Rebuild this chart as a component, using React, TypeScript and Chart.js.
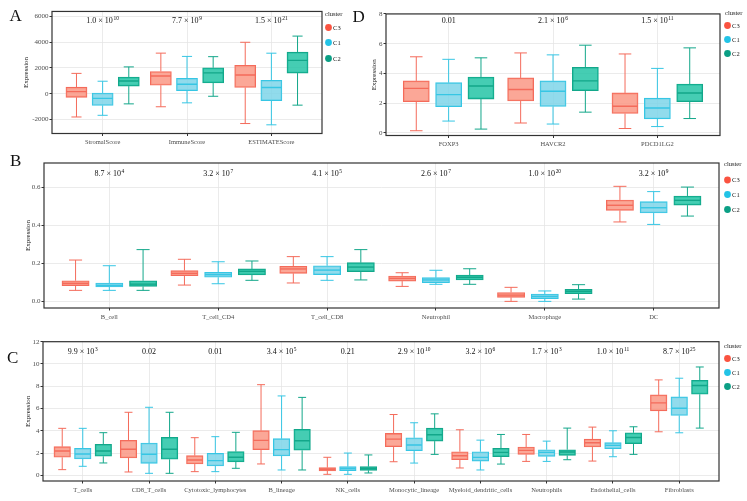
import React, { useEffect, useRef } from 'react';
import { Chart, registerables } from 'chart.js';

Chart.register(...registerables);

const FONT = "'Liberation Serif', 'Times New Roman', Times, serif";
Chart.defaults.font.family = FONT;

// ---------------- data ----------------
const clusters = ['C3', 'C1', 'C2'];

// each box: [lower whisker, Q1, median, Q3, upper whisker]
const catsA = ['StromalScore', 'ImmuneScore', 'ESTIMATEScore'];
const aC3 = [[-1810, -280, 160, 510, 1580], [-1015, 660, 1375, 1730, 3155], [-2320, 485, 1450, 2215, 4000]];
const aC1 = [[-1680, -915, -360, 55, 970], [-710, 230, 740, 1195, 2900], [-2420, -535, 485, 1045, 3150]];
const aC2 = [[-790, 590, 990, 1300, 2085], [-200, 840, 1620, 2015, 2880], [-890, 1605, 2590, 3235, 4480]];
const ticksA = [-2000, 0, 2000, 4000, 6000];
const pA = ['1.0 × 10^10', '7.7 × 10^9', '1.5 × 10^21'];

const catsD = ['FOXP3', 'HAVCR2', 'PDCD1LG2'];
const dC3 = [[0.15, 2.1, 3.0, 3.5, 5.12], [0.67, 2.15, 2.92, 3.7, 5.38], [0.3, 1.31, 1.8, 2.69, 5.31]];
const dC1 = [[0.8, 1.76, 2.58, 3.38, 4.95], [0.6, 1.78, 2.8, 3.5, 5.25], [0.43, 0.95, 1.68, 2.34, 4.34]];
const dC2 = [[0.26, 2.28, 3.16, 3.76, 5.05], [1.4, 2.84, 3.5, 4.41, 5.9], [0.97, 2.11, 2.69, 3.29, 5.72]];
const ticksD = [0, 2, 4, 6, 8];
const pD = ['0.01', '2.1 × 10^6', '1.5 × 10^11'];

const catsB = ['B_cell', 'T_cell_CD4', 'T_cell_CD8', 'Neutrophil', 'Macrophage', 'DC'];
const bC3 = [[0.058, 0.083, 0.095, 0.109, 0.218], [0.086, 0.135, 0.148, 0.162, 0.222], [0.097, 0.148, 0.171, 0.185, 0.236], [0.079, 0.107, 0.121, 0.134, 0.151], [0.0, 0.021, 0.033, 0.047, 0.074], [0.419, 0.48, 0.507, 0.535, 0.607]];
const bC1 = [[0.058, 0.076, 0.084, 0.097, 0.188], [0.093, 0.127, 0.141, 0.153, 0.209], [0.111, 0.141, 0.165, 0.188, 0.236], [0.09, 0.098, 0.113, 0.125, 0.164], [0.0, 0.014, 0.026, 0.039, 0.055], [0.406, 0.466, 0.494, 0.526, 0.579]];
const bC2 = [[0.058, 0.079, 0.091, 0.109, 0.273], [0.111, 0.139, 0.158, 0.171, 0.213], [0.113, 0.157, 0.181, 0.204, 0.273], [0.09, 0.113, 0.127, 0.139, 0.172], [0.012, 0.04, 0.053, 0.063, 0.088], [0.45, 0.508, 0.533, 0.556, 0.603]];
const ticksB = [0, 0.2, 0.4, 0.6];
const pB = ['8.7 × 10^4', '3.2 × 10^7', '4.1 × 10^5', '2.6 × 10^7', '1.0 × 10^20', '3.2 × 10^9'];

const catsC = ['T_cells', 'CD8_T_cells', 'Cytotoxic_lymphocytes', 'B_lineage', 'NK_cells', 'Monocytic_lineage', 'Myeloid_dendritic_cells', 'Neutrophils', 'Endothelial_cells', 'Fibroblasts'];
const cC3 = [[0.51, 1.62, 2.19, 2.57, 4.22], [0.3, 1.56, 2.34, 3.14, 5.66], [0.33, 1.02, 1.38, 1.77, 3.38], [1.02, 2.31, 3.14, 4.01, 8.14], [0.09, 0.39, 0.54, 0.69, 1.62], [1.22, 2.57, 3.25, 3.76, 5.46], [0.66, 1.4, 1.76, 2.12, 4.09], [1.25, 1.88, 2.24, 2.54, 3.67], [1.28, 2.54, 2.93, 3.25, 4.33], [3.91, 5.79, 6.51, 7.22, 8.57]];
const cC1 = [[0.81, 1.47, 1.92, 2.43, 4.22], [0.18, 1.08, 1.89, 2.9, 6.11], [0.33, 0.84, 1.32, 1.98, 3.47], [0.48, 1.74, 2.31, 3.29, 7.13], [0.09, 0.42, 0.6, 0.78, 2.0], [1.1, 2.21, 2.72, 3.37, 4.72], [0.48, 1.28, 1.61, 2.12, 3.16], [1.25, 1.7, 2.06, 2.3, 3.07], [1.67, 2.39, 2.69, 2.93, 4.0], [3.82, 5.37, 6.03, 7.04, 8.72]];
const cC2 = [[1.11, 1.71, 2.19, 2.78, 3.83], [0.18, 1.44, 2.34, 3.41, 5.66], [0.63, 1.2, 1.62, 2.13, 3.86], [0.48, 2.25, 3.11, 4.13, 7.0], [0.21, 0.45, 0.6, 0.78, 1.83], [1.88, 3.07, 3.64, 4.24, 5.52], [1.01, 1.67, 2.06, 2.42, 3.67], [1.4, 1.79, 2.09, 2.3, 4.24], [1.88, 2.84, 3.4, 3.82, 4.36], [4.24, 7.28, 8.06, 8.54, 9.73]];
const ticksC = [0, 2, 4, 6, 8, 10, 12];
const pC = ['9.9 × 10^3', '0.02', '0.01', '3.4 × 10^5', '0.21', '2.9 × 10^10', '3.2 × 10^6', '1.7 × 10^3', '1.0 × 10^11', '8.7 × 10^25'];

// ---------------- styles ----------------
const dotColors = ['#FA5340', '#22C3E6', '#0B9F85'];
const lineColors = ['#F46B5B', '#36C6E4', '#13A78A'];
const fillColors = ['rgba(250,152,133,0.85)', 'rgba(126,213,233,0.85)', 'rgba(36,196,166,0.85)'];
const DODGE = 0.31;
const BOX_W = 0.25;
const CAP_W = 0.12;

const panels = [
  {
    id: 'A', cats: catsA, series: [aC3, aC1, aC2], yTicks: ticksA, pvals: pA,
    canvas: { left: 0, top: 0, w: 352, h: 160 },
    plot: { left: 52, right: 322, top: 9.3, bottom: 133.5 },
    yMin: -3095, yMax: 6397, fmt: (v: number) => String(v),
    yTitleX: 26.3, pY: 23.3, letter: { x: 9.5, y: 20.7 },
    legend: { titleX: 325, titleY: 14.3, dotX: 328.5, ys: [27.5, 42.5, 58.5] },
  },
  {
    id: 'D', cats: catsD, series: [dC3, dC1, dC2], yTicks: ticksD, pvals: pD,
    canvas: { left: 350, top: 0, w: 397, h: 160 },
    plot: { left: 386, right: 720, top: 9.3, bottom: 135.5 },
    yMin: -0.17, yMax: 8.0, fmt: (v: number) => String(v),
    yTitleX: 374, pY: 23.3, letter: { x: 352.5, y: 21.7 },
    legend: { titleX: 725, titleY: 13.5, dotX: 727.5, ys: [25.5, 39.5, 53.5] },
  },
  {
    id: 'B', cats: catsB, series: [bC3, bC1, bC2], yTicks: ticksB, pvals: pB,
    canvas: { left: 0, top: 145, w: 747, h: 182 },
    plot: { left: 44, right: 719, top: 163, bottom: 308 },
    yMin: -0.035, yMax: 0.73, fmt: (v: number) => v.toFixed(1),
    yTitleX: 27.8, pY: 176, letter: { x: 10, y: 166 },
    legend: { titleX: 724, titleY: 164, dotX: 727.5, ys: [180, 194.5, 209.5] },
  },
  {
    id: 'C', cats: catsC, series: [cC3, cC1, cC2], yTicks: ticksC, pvals: pC,
    canvas: { left: 0, top: 327, w: 747, h: 174 },
    plot: { left: 43, right: 719, top: 341.7, bottom: 481 },
    yMin: -0.51, yMax: 12.0, fmt: (v: number) => String(v),
    yTitleX: 27.8, pY: 354, letter: { x: 7, y: 362.5 },
    legend: { titleX: 724, titleY: 346.5, dotX: 727.5, ys: [358.5, 372.5, 386.5] },
  },
];

function drawP(ctx: CanvasRenderingContext2D, label: string, x: number, y: number, size: number) {
  const parts = label.split('^');
  const base = parts[0];
  const exp = parts[1];
  const es = size * 0.68;
  ctx.font = `${size}px ${FONT}`;
  const bw = ctx.measureText(base).width;
  let ew = 0;
  if (exp) {
    ctx.font = `${es}px ${FONT}`;
    ew = ctx.measureText(exp).width + 0.6;
  }
  const x0 = x - (bw + ew) / 2;
  ctx.textAlign = 'left';
  ctx.textBaseline = 'alphabetic';
  ctx.fillStyle = '#111';
  ctx.font = `${size}px ${FONT}`;
  ctx.fillText(base, x0, y);
  if (exp) {
    ctx.font = `${es}px ${FONT}`;
    ctx.fillText(exp, x0 + bw + 0.6, y - size * 0.42);
  }
}

function makeDeco(p: any) {
  return {
    id: 'deco' + p.id,
    afterDraw(chart: any) {
      const { ctx, chartArea: a, scales } = chart;
      const ox = p.canvas.left;
      const oy = p.canvas.top;
      ctx.save();
      // panel border
      ctx.strokeStyle = '#333';
      ctx.lineWidth = 1.2;
      ctx.strokeRect(a.left, a.top, a.right - a.left, a.bottom - a.top);
      // p-values
      p.pvals.forEach((lab: string, i: number) => {
        drawP(ctx, lab, scales.x.getPixelForValue(i + 1), p.pY - oy, 8);
      });
      // legend
      const lg = p.legend;
      ctx.font = `6.5px ${FONT}`;
      ctx.textAlign = 'left';
      ctx.textBaseline = 'middle';
      ctx.fillStyle = '#1a1a1a';
      ctx.fillText('cluster', lg.titleX - ox, lg.titleY - oy);
      clusters.forEach((name, c) => {
        const y = lg.ys[c] - oy;
        ctx.beginPath();
        ctx.arc(lg.dotX - ox, y, 3.4, 0, Math.PI * 2);
        ctx.fillStyle = dotColors[c];
        ctx.fill();
        ctx.fillStyle = '#1a1a1a';
        ctx.font = `6.5px ${FONT}`;
        ctx.fillText(name, lg.dotX - ox + 4.6, y + 0.5);
      });
      // panel letter
      ctx.font = `17px ${FONT}`;
      ctx.textBaseline = 'alphabetic';
      ctx.fillStyle = '#111';
      ctx.fillText(p.id, p.letter.x - ox, p.letter.y - oy);
      ctx.restore();
    },
  };
}

function buildConfig(p: any) {
  const n = p.cats.length;
  const unit = (p.plot.right - p.plot.left) / (n + 0.2);
  const boxPx = unit * BOX_W;
  const capPx = unit * CAP_W;
  const datasets: any[] = [];
  p.series.forEach((stats: number[][], c: number) => {
    const off = (c - 1) * DODGE;
    const xs = stats.map((_, i) => i + 1 + off);
    datasets.push({
      type: 'bar',
      data: stats.map((s, i) => ({ x: xs[i], y: [s[1], s[3]] })),
      backgroundColor: fillColors[c],
      borderColor: lineColors[c],
      borderWidth: 1.1,
      borderSkipped: false,
      barThickness: boxPx,
      grouped: false,
      order: 2,
    });
    const wd: any[] = [];
    stats.forEach((s, i) => {
      const x = xs[i];
      wd.push({ x, y: s[0] }, { x, y: s[1] }, { x, y: null }, { x, y: s[3] }, { x, y: s[4] }, { x, y: null });
    });
    datasets.push({
      type: 'line',
      data: wd,
      borderColor: lineColors[c],
      borderWidth: 1,
      pointRadius: 0,
      spanGaps: false,
      order: 3,
    });
    datasets.push({
      type: 'line',
      showLine: false,
      data: stats.map((s, i) => ({ x: xs[i], y: s[2] })),
      pointStyle: 'line',
      pointRadius: boxPx / 2 - 0.5,
      pointBorderColor: lineColors[c],
      pointBorderWidth: 1.4,
      order: 1,
    });
    const caps: any[] = [];
    stats.forEach((s, i) => {
      caps.push({ x: xs[i], y: s[0] }, { x: xs[i], y: s[4] });
    });
    datasets.push({
      type: 'line',
      showLine: false,
      data: caps,
      pointStyle: 'line',
      pointRadius: capPx / 2,
      pointBorderColor: lineColors[c],
      pointBorderWidth: 1,
      order: 1,
    });
  });

  const yW = p.plot.left - p.canvas.left;
  const xH = p.canvas.top + p.canvas.h - p.plot.bottom;
  const gridBase = { color: '#E6E6E6', lineWidth: 0.8, tickColor: '#333', tickLength: 2.5, tickWidth: 1 };

  return {
    type: 'bar',
    data: { datasets },
    options: {
      animation: false,
      responsive: false,
      events: [],
      layout: {
        padding: {
          left: 0,
          top: p.plot.top - p.canvas.top,
          right: p.canvas.left + p.canvas.w - p.plot.right,
          bottom: 0,
        },
      },
      plugins: { legend: { display: false }, tooltip: { enabled: false } },
      scales: {
        x: {
          type: 'linear',
          min: 0.4,
          max: n + 0.6,
          offset: false,
          bounds: 'data',
          grid: { ...gridBase, offset: false },
          border: { display: false },
          afterBuildTicks: (s: any) => {
            s.ticks = p.cats.map((_: string, i: number) => ({ value: i + 1 }));
          },
          afterFit: (s: any) => { s.height = xH; },
          ticks: {
            autoSkip: false,
            maxRotation: 0,
            minRotation: 0,
            padding: 2.5,
            color: '#4D4D4D',
            font: { size: 6.5 },
            callback: (v: number) => p.cats[Math.round(v) - 1],
          },
        },
        y: {
          type: 'linear',
          min: p.yMin,
          max: p.yMax,
          bounds: 'data',
          grid: gridBase,
          border: { display: false },
          afterBuildTicks: (s: any) => {
            s.ticks = p.yTicks.map((v: number) => ({ value: v }));
          },
          afterFit: (s: any) => { s.width = yW; },
          ticks: {
            padding: 1,
            color: '#4D4D4D',
            font: { size: 7 },
            callback: (v: number) => p.fmt(v),
          },
          title: {
            display: true,
            text: 'Expression',
            color: '#1a1a1a',
            font: { size: 7 },
            padding: { top: p.yTitleX - p.canvas.left - 4.2, bottom: 0 },
          },
        },
      },
    },
    plugins: [makeDeco(p)],
  };
}

function Panel({ p }: { p: any }) {
  const ref = useRef<HTMLCanvasElement>(null);
  useEffect(() => {
    if (!ref.current) return;
    const chart = new Chart(ref.current, buildConfig(p) as any);
    return () => chart.destroy();
  }, [p]);
  return (
    <canvas
      ref={ref}
      width={p.canvas.w}
      height={p.canvas.h}
      style={{ position: 'absolute', left: p.canvas.left, top: p.canvas.top, width: p.canvas.w, height: p.canvas.h }}
    />
  );
}

export default function App() {
  return (
    <div style={{ position: 'fixed', left: 0, top: 0, width: 747, height: 501, background: '#ffffff', overflow: 'hidden' }}>
      {panels.map((p) => (
        <Panel key={p.id} p={p} />
      ))}
    </div>
  );
}
